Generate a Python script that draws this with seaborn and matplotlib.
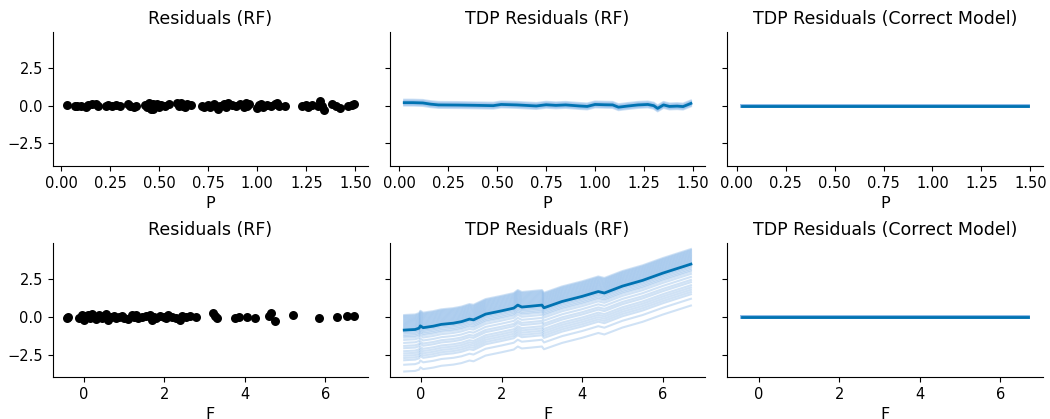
import matplotlib
matplotlib.use("Agg")
import matplotlib.pyplot as plt
import numpy as np
import pandas as pd
import seaborn as sns

# --- residui del random forest (scatter) ---
p_obs = [0.03, 0.07, 0.08, 0.10, 0.13, 0.14, 0.16, 0.18, 0.19, 0.23, 0.24, 0.26, 0.28,
         0.30, 0.34, 0.35, 0.37, 0.38, 0.43, 0.44, 0.45, 0.46, 0.47, 0.47, 0.48, 0.49,
         0.50, 0.51, 0.53, 0.55, 0.59, 0.60, 0.61, 0.62, 0.63, 0.64, 0.66, 0.72, 0.73,
         0.75, 0.76, 0.78, 0.79, 0.80, 0.81, 0.83, 0.84, 0.85, 0.87, 0.89, 0.91, 0.93,
         0.94, 0.95, 0.96, 1.00, 1.01, 1.02, 1.03, 1.05, 1.07, 1.09, 1.10, 1.11, 1.14,
         1.23, 1.25, 1.26, 1.28, 1.31, 1.32, 1.33, 1.34, 1.38, 1.40, 1.42, 1.46, 1.48, 1.49]
p_res = [0.05, -0.05, 0.0, -0.03, -0.1, 0.02, 0.08, 0.1, -0.02, 0.0, 0.05, -0.04, 0.03,
         0.0, 0.12, -0.05, -0.12, 0.0, 0.05, -0.1, 0.15, -0.2, 0.1, -0.25, 0.0, 0.12,
         -0.08, 0.05, 0.0, 0.08, 0.15, -0.05, 0.2, 0.0, -0.1, 0.12, 0.02, 0.0, -0.08,
         0.05, -0.12, 0.1, -0.05, -0.2, 0.0, 0.12, -0.1, 0.15, 0.02, -0.05, 0.08, -0.12,
         0.18, 0.0, 0.1, -0.15, 0.05, 0.12, -0.1, 0.02, 0.0, 0.08, 0.15, -0.05, 0.0,
         0.0, 0.05, -0.08, 0.02, -0.05, 0.3, 0.0, -0.3, 0.12, -0.02, -0.15, 0.0, 0.05, 0.1]

f_obs = [-0.42, -0.38, -0.12, -0.05, 0.0, 0.05, 0.1, 0.15, 0.2, 0.25, 0.3, 0.38, 0.45,
         0.5, 0.55, 0.6, 0.68, 0.75, 0.8, 0.88, 0.95, 1.0, 1.1, 1.2, 1.25, 1.3, 1.35,
         1.45, 1.55, 1.65, 1.7, 1.75, 1.8, 1.9, 2.0, 2.05, 2.1, 2.2, 2.3, 2.38, 2.45,
         2.55, 2.65, 2.8, 3.2, 3.25, 3.3, 3.75, 3.85, 4.05, 4.25, 4.6, 4.65, 4.75,
         5.2, 5.85, 6.3, 6.55, 6.7]
f_res = [-0.05, 0.02, -0.1, 0.1, -0.2, 0.05, 0.15, -0.1, 0.2, 0.0, -0.15, 0.1, -0.05,
         0.05, 0.2, -0.2, 0.0, 0.08, -0.1, 0.0, 0.05, -0.05, -0.12, 0.1, 0.0, 0.15,
         -0.05, 0.0, 0.08, 0.12, -0.2, 0.0, -0.1, 0.05, 0.0, -0.1, 0.15, 0.0, -0.1,
         -0.2, 0.05, 0.0, 0.05, 0.0, 0.25, 0.05, -0.1, -0.08, 0.0, 0.0, -0.1, 0.05,
         0.25, -0.25, 0.15, -0.1, 0.0, 0.05, 0.05]

# --- curve TDP (RF): curva media + scostamenti delle singole curve ---
p_grid = [0.025, 0.07, 0.12, 0.16, 0.2, 0.3, 0.4, 0.48, 0.52, 0.6, 0.7, 0.75, 0.8,
          0.85, 0.92, 0.96, 1.0, 1.05, 1.09, 1.12, 1.17, 1.22, 1.27, 1.3, 1.32, 1.35,
          1.38, 1.42, 1.45, 1.49]
p_mean = [0.2, 0.2, 0.18, 0.1, 0.05, 0.04, 0.02, 0.0, 0.08, 0.05, -0.02, 0.06, 0.02,
          0.05, -0.02, -0.05, 0.08, 0.06, 0.05, -0.1, -0.02, 0.05, 0.08, 0.0, -0.18,
          0.05, -0.05, -0.03, -0.06, 0.15]
p_offsets = [0.2, 0.15, 0.1, 0.06, 0.02, -0.03, -0.07, -0.11, -0.15, -0.2]

f_grid = [-0.42, -0.3, -0.15, -0.05, -0.02, 0.05, 0.3, 0.5, 0.8, 1.0, 1.2, 1.3, 1.6,
          2.0, 2.3, 2.4, 2.5, 2.7, 3.0, 3.05, 3.5, 4.0, 4.4, 4.55, 5.0, 5.5, 6.0, 6.7]
f_mean = [-0.88, -0.86, -0.84, -0.75, -0.6, -0.72, -0.62, -0.5, -0.42, -0.32, -0.15,
          -0.2, 0.18, 0.4, 0.58, 0.78, 0.65, 0.7, 0.78, 0.6, 1.02, 1.36, 1.68, 1.58,
          2.04, 2.42, 2.9, 3.5]
f_offsets = [1.0, 0.94, 0.88, 0.82, 0.76, 0.7, 0.64, 0.58, 0.52, 0.46, 0.4, 0.34, 0.28,
             0.22, 0.16, 0.1, 0.04, -0.04, -0.12, -0.2, -0.3, -0.4, -0.5, -0.65,
             -0.85, -1.05, -1.2, -1.4, -1.55, -1.7, -1.85, -2.0, -2.3, -2.75]

# modello corretto: residui nulli
zero_line = [0.0, 0.0]


def ice_frame(grid, mean, offsets):
    rows = []
    for i, off in enumerate(offsets):
        for x, m in zip(grid, mean):
            rows.append({"x": x, "y": m + off, "unit": i})
    return pd.DataFrame(rows)


dark = "#0173b2"
light = "#8ab8e8"

fig, axes = plt.subplots(2, 3, figsize=(10.5, 4.19), dpi=100, sharey=True)

panels = [
    ("P", p_obs, p_res, p_grid, p_mean, p_offsets),
    ("F", f_obs, f_res, f_grid, f_mean, f_offsets),
]

for row, (name, xo, yo, grid, mean, offs) in enumerate(panels):
    ax = axes[row, 0]
    sns.scatterplot(x=xo, y=yo, color="black", s=42, linewidth=0, ax=ax)
    ax.set_title("Residuals (RF)", fontsize=12.5)

    ax = axes[row, 1]
    df_ice = ice_frame(grid, mean, offs)
    sns.lineplot(data=df_ice, x="x", y="y", units="unit", estimator=None,
                 color=light, alpha=0.4, linewidth=1.5, ax=ax)
    sns.lineplot(x=grid, y=mean, color=dark, linewidth=2, ax=ax)
    ax.set_title("TDP Residuals (RF)", fontsize=12.5)

    ax = axes[row, 2]
    sns.lineplot(x=[grid[0], grid[-1]], y=zero_line, color=light, linewidth=2.8, ax=ax)
    sns.lineplot(x=[grid[0], grid[-1]], y=zero_line, color=dark, linewidth=2, ax=ax)
    ax.set_title("TDP Residuals (Correct Model)", fontsize=12.5)

    for ax in axes[row]:
        ax.set_xlabel(name, fontsize=11.5)
        ax.set_ylabel("")
        ax.tick_params(labelsize=10.5)

axes[0, 0].set_ylim(-4.0, 4.9)
for ax in axes.flat:
    ax.set_yticks([-2.5, 0.0, 2.5])

sns.despine(fig=fig)
plt.subplots_adjust(left=0.05, right=0.993, top=0.924, bottom=0.1, wspace=0.07, hspace=0.575)
plt.savefig("out.png", dpi=100)
